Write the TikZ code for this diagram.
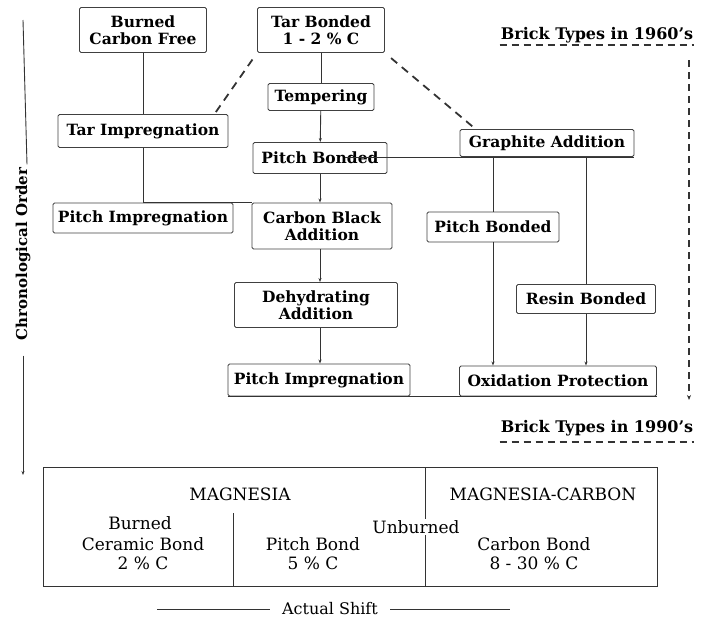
\documentclass[tikz,border=0pt]{standalone}
\usepackage{fontspec}
\setmainfont{DejaVu Serif}
\usetikzlibrary{arrows.meta}

\begin{document}
\begin{tikzpicture}[x=1pt, y=-1pt,
    stage/.style={draw=black!75, line width=0.9pt, rounded corners=1.5pt, align=center, inner sep=1pt, font=\fontsize{15.5}{16.5}\selectfont\bfseries},
    link/.style={draw=black!80, line width=0.9pt},
    flow/.style={link, -{Stealth[length=4pt, width=3pt]}},
    guess/.style={link, line width=1.8pt, dash pattern=on 8pt off 6pt},
    era/.style={inner sep=1pt, font=\fontsize{16}{18}\selectfont\bfseries},
    eraline/.style={link, line width=1.5pt, dash pattern=on 7pt off 5pt},
    cell/.style={align=center, font=\fontsize{17}{19}\selectfont}]
  \useasboundingbox (0,0) rectangle (702,621);

  \node[stage, minimum width=127pt, minimum height=45pt] (burned) at (143,30) {Burned\\Carbon Free};
  \node[stage, minimum width=127pt, minimum height=45pt] (tarbond) at (321,30) {Tar Bonded\\1 - 2 \% C};
  \node[stage, minimum width=106pt, minimum height=27pt] (temper) at (321,97) {Tempering};
  \node[stage, minimum width=170pt, minimum height=33pt] (tarimp) at (143,131) {Tar Impregnation};
  \node[stage, minimum width=134pt, minimum height=31pt] (pbond) at (320,158) {Pitch Bonded};
  \node[stage, minimum width=174pt, minimum height=27pt] (graphite) at (547,143) {Graphite Addition};
  \node[stage, minimum width=180pt, minimum height=30pt] (pimp) at (143,218) {Pitch Impregnation};
  \node[stage, minimum width=140pt, minimum height=46pt] (cblack) at (322,226) {Carbon Black\\Addition};
  \node[stage, minimum width=132pt, minimum height=30pt] (pbondnew) at (493,227) {Pitch Bonded};
  \node[stage, minimum width=163pt, minimum height=45pt] (dehyd) at (316,305) {Dehydrating\\Addition};
  \node[stage, minimum width=139pt, minimum height=29pt] (resin) at (586,299) {Resin Bonded};
  \node[stage, minimum width=182pt, minimum height=32pt] (pimpnew) at (319,380) {Pitch Impregnation};
  \node[stage, minimum width=197pt, minimum height=30pt] (oxid) at (558,381) {Oxidation Protection};

  \draw[link] (burned) -- (tarimp);
  \draw[link] (tarimp) -- (pimp);
  \draw[link] (pimp.north) -- (cblack.north west);
  \draw[link] (tarbond) -- (temper);
  \draw[flow] (temper) -- (pbond);
  \draw[flow] (pbond) -- (pbond |- cblack.north);
  \draw[flow] (cblack.south -| pbond) -- (pbond |- dehyd.north);
  \draw[flow] (dehyd.south -| pbond) -- (pbond |- pimpnew.north);
  \draw[link] ([xshift=25pt]pbond.center |- graphite.south) -- (graphite.south east);
  \draw[link] (pbondnew.north |- graphite.south) -- (pbondnew.north);
  \draw[link] (resin.north |- graphite.south) -- (resin.north);
  \draw[flow] (pbondnew) -- (pbondnew |- oxid.north);
  \draw[flow] (resin) -- (resin |- oxid.north);
  \draw[link] (pimpnew.south west) -- (oxid.south east);
  \draw[guess, shorten <=8pt] (tarbond.south west) -- ([xshift=-14pt]tarimp.north east);
  \draw[guess, shorten <=8pt] (tarbond.south east) -- ([xshift=16pt]graphite.north west);

  \node[era] (sixties) at (597,35) {Brick Types in 1960's};
  \draw[eraline] ([yshift=-1pt]sixties.south west) -- ([yshift=-1pt]sixties.south east);
  \node[era] (nineties) at (597,428) {Brick Types in 1990's};
  \draw[eraline] ([yshift=-5pt]nineties.south west) -- ([yshift=-5pt]nineties.south east);
  \coordinate (eratop) at (689,60);
  \coordinate (erabot) at (689,400);
  \draw[eraline, -{Stealth[length=5pt, width=4pt]}] (eratop) -- (erabot);

  \node[rotate=90, font=\fontsize{15}{16}\selectfont\bfseries] (chrono) at (23,254) {Chronological Order};
  \coordinate (chrotop) at (23,20);
  \coordinate (chrobot) at (23,475);
  \draw[link] (chrotop) -- ([xshift=4pt]chrono.east);
  \draw[link, -{Stealth[length=4pt, width=3pt]}, shorten <=12pt] (chrono.west) -- (chrobot);

  \coordinate (tabnw) at (43,467);
  \coordinate (tabse) at (657,586);
  \draw[link] (tabnw) rectangle (tabse);
  \draw[link] (425,467) -- (425,586);
  \draw[link] (233,513) -- (233,586);
  \node[cell] (magn) at (240,494) {MAGNESIA};
  \node[cell] (magc) at (543,494) {MAGNESIA-CARBON};
  \node[cell] (burn) at (140,523) {Burned};
  \node[cell, fill=white, inner sep=1pt] (unburn) at (416,527) {Unburned};
  \node[cell] (ceramic) at (143,554) {Ceramic Bond\\2 \% C};
  \node[cell] (pitchb) at (313,554) {Pitch Bond\\5 \% C};
  \node[cell] (carbb) at (534,554) {Carbon Bond\\8 - 30 \% C};

  \node[cell, inner ysep=2pt, inner xsep=12pt, font=\fontsize{16}{18}\selectfont] (shift) at (330,609) {Actual Shift};
  \coordinate (shiftl) at (157,609);
  \coordinate (shiftr) at (510,609);
  \draw[link] (shiftl) -- (shift.west);
  \draw[link] (shift.east) -- (shiftr);
\end{tikzpicture}
\end{document}
